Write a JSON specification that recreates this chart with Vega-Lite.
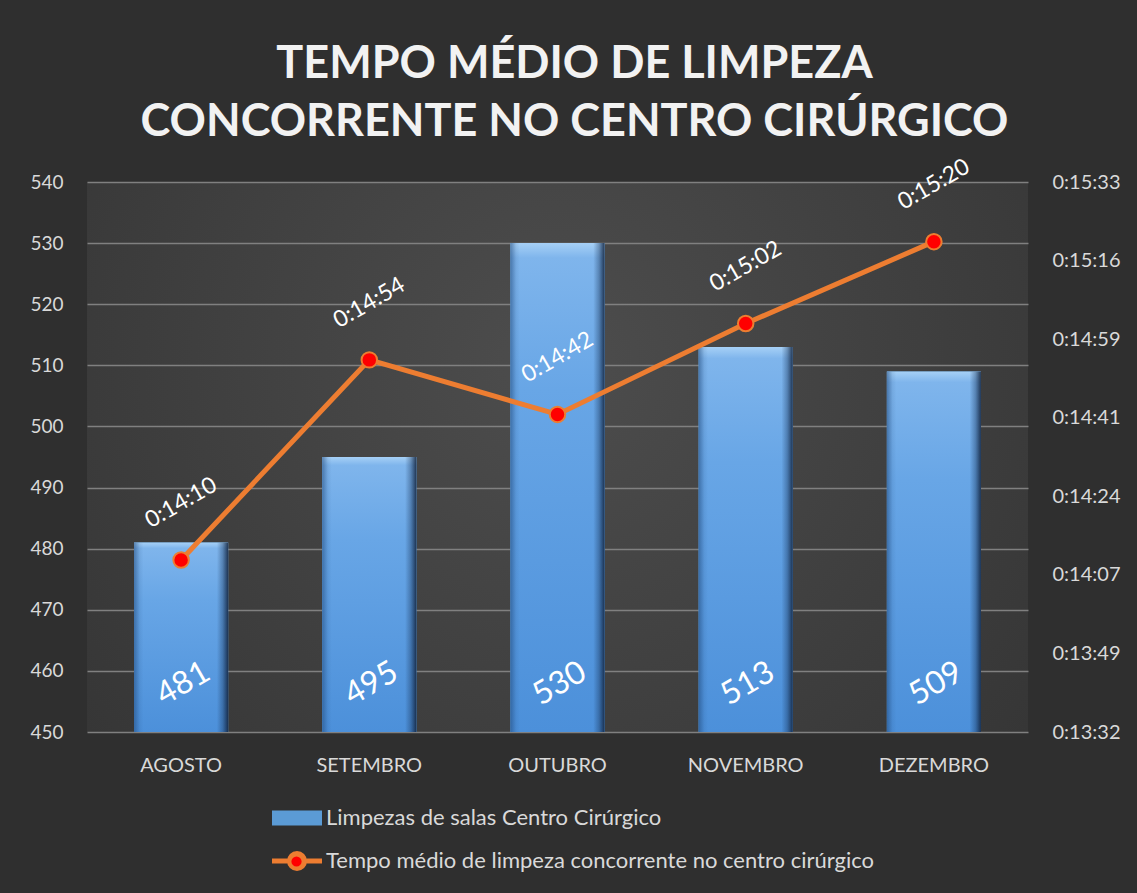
{
  "$schema": "https://vega.github.io/schema/vega-lite/v6.json",
  "width": 941,
  "height": 550,
  "autosize": {"type": "none"},
  "padding": {"left": 87, "top": 182, "right": 109, "bottom": 161},
  "background": "#2f2f2f",
  "config": {
    "font": "Lato",
    "view": {
      "stroke": null,
      "fill": {
        "gradient": "radial",
        "x1": 0.5, "y1": 0.4, "x2": 0.5, "y2": 0.4, "r1": 0, "r2": 0.8,
        "stops": [
          {"offset": 0, "color": "#4d4d4d"},
          {"offset": 1, "color": "#303030"}
        ]
      }
    },
    "axis": {
      "labelFont": "Lato",
      "labelColor": "#d9d9d9",
      "labelFontSize": 19,
      "ticks": false,
      "domain": false,
      "title": null
    }
  },
  "title": {
    "text": ["TEMPO MÉDIO DE LIMPEZA", "CONCORRENTE NO CENTRO CIRÚRGICO"],
    "font": "Lato",
    "fontSize": 45,
    "fontWeight": "bold",
    "color": "#f2f2f2",
    "lineHeight": 58,
    "anchor": "middle",
    "offset": 11,
    "dx": 17
  },
  "data": {
    "values": [
      {"mes": "AGOSTO", "limpezas": 481, "tempo": 850, "tempo_label": "0:14:10"},
      {"mes": "SETEMBRO", "limpezas": 495, "tempo": 894, "tempo_label": "0:14:54"},
      {"mes": "OUTUBRO", "limpezas": 530, "tempo": 882, "tempo_label": "0:14:42"},
      {"mes": "NOVEMBRO", "limpezas": 513, "tempo": 902, "tempo_label": "0:15:02"},
      {"mes": "DEZEMBRO", "limpezas": 509, "tempo": 920, "tempo_label": "0:15:20"}
    ]
  },
  "layer": [
    {
      "encoding": {
        "x": {
          "field": "mes", "type": "nominal", "sort": null,
          "scale": {"paddingInner": 0.5, "paddingOuter": 0.25},
          "axis": {"labelAngle": 0, "labelPadding": 23, "labelFontSize": 20, "grid": false}
        },
        "y": {
          "field": "limpezas", "type": "quantitative",
          "scale": {"domain": [450, 540], "zero": false, "nice": false},
          "axis": {
            "orient": "left",
            "values": [450, 460, 470, 480, 490, 500, 510, 520, 530, 540],
            "grid": true, "gridColor": "#808080", "gridWidth": 1.5,
            "labelPadding": 24
          }
        }
      },
      "layer": [
        {
          "mark": {"type": "bar"},
          "encoding": {
            "y2": {"datum": 450},
            "color": {
              "datum": "Limpezas de salas Centro Cirúrgico",
              "type": "nominal",
              "scale": {
                "domain": ["Limpezas de salas Centro Cirúrgico", "Tempo médio de limpeza concorrente no centro cirúrgico"],
                "range": ["#5b9bd5", "#ed7d31"]
              },
              "legend": {
                "orient": "none",
                "legendX": 199,
                "legendY": 625,
                "direction": "vertical",
                "title": null,
                "padding": 0,
                "labelFont": "Lato",
                "labelFontSize": 22,
                "labelColor": "#d9d9d9",
                "labelLimit": 0,
                "symbolSize": 2500,
                "rowPadding": 14,
                "labelOffset": 18,
                "encode": {
                  "symbols": {
                    "update": {
                      "shape": {"signal": "datum.value == 'Limpezas de salas Centro Cirúrgico' ? 'M-1,-0.3H1V0.3H-1Z' : 'M-1,0H-0.3M0.3,0H1M-0.3,0A0.3,0.3 0 1 1 0.3,0A0.3,0.3 0 1 1 -0.3,0Z'"},
                      "strokeWidth": {"signal": "datum.value == 'Limpezas de salas Centro Cirúrgico' ? 0 : 5"},
                      "opacity": {"value": 1}
                    }
                  }
                }
              }
            }
          }
        },
        {
          "mark": {
            "type": "bar",
            "fill": {
              "gradient": "linear", "x1": 0, "y1": 0, "x2": 0, "y2": 1,
              "stops": [
                {"offset": 0, "color": "#a6d0f6"},
                {"offset": 0.03, "color": "#7fb5ec"},
                {"offset": 0.3, "color": "#68a6e6"},
                {"offset": 1, "color": "#4c90da"}
              ]
            }
          },
          "encoding": {"y2": {"datum": 450}}
        },
        {
          "mark": {
            "type": "bar",
            "fill": {
              "gradient": "linear", "x1": 0, "y1": 0, "x2": 1, "y2": 0,
              "stops": [
                {"offset": 0, "color": "rgba(30,70,120,0.55)"},
                {"offset": 0.06, "color": "rgba(30,70,120,0.1)"},
                {"offset": 0.1, "color": "rgba(30,70,120,0)"},
                {"offset": 0.88, "color": "rgba(20,45,80,0)"},
                {"offset": 0.94, "color": "rgba(20,45,80,0.35)"},
                {"offset": 1, "color": "rgba(15,30,55,0.85)"}
              ]
            }
          },
          "encoding": {"y2": {"datum": 450}}
        },
        {
          "mark": {
            "type": "text", "angle": 330, "align": "center", "baseline": "middle",
            "dx": 26, "dy": -41, "fontSize": 32, "font": "Lato", "color": "#ffffff"
          },
          "encoding": {
            "y": {"datum": 450},
            "text": {"field": "limpezas", "type": "quantitative"}
          }
        }
      ]
    },
    {
      "encoding": {
        "x": {"field": "mes", "type": "nominal", "sort": null},
        "y": {
          "field": "tempo", "type": "quantitative",
          "scale": {"domain": [812.16, 933.12], "zero": false, "nice": false},
          "axis": {
            "orient": "right",
            "values": [812.16, 829.44, 846.72, 864, 881.28, 898.56, 915.84, 933.12],
            "grid": false,
            "labelPadding": 24,
            "labelFontSize": 20,
            "labelExpr": "'0:' + timeFormat(datetime(2000, 0, 1, 0, 0, round(datum.value)), '%M:%S')"
          }
        }
      },
      "layer": [
        {
          "mark": {"type": "line", "strokeWidth": 5},
          "encoding": {
            "color": {"datum": "Tempo médio de limpeza concorrente no centro cirúrgico", "type": "nominal"}
          }
        },
        {
          "mark": {
            "type": "point", "shape": "circle", "filled": true, "size": 240,
            "stroke": "#ed7d31", "strokeWidth": 2, "opacity": 1
          },
          "encoding": {
            "fill": {
              "datum": "Marcador",
              "type": "nominal",
              "scale": {"domain": ["Marcador"], "range": ["#ff0000"]},
              "legend": {
                "orient": "none",
                "legendX": 202,
                "legendY": 672,
                "title": null,
                "padding": 0,
                "labelExpr": "''",
                "symbolType": "circle",
                "symbolSize": 150,
                "symbolStrokeColor": "#ed7d31",
                "symbolStrokeWidth": 2,
                "symbolOpacity": 1
              }
            }
          }
        },
        {
          "mark": {
            "type": "text", "angle": 330, "align": "center", "baseline": "middle",
            "dx": 28.5, "dy": -49.4, "fontSize": 23, "font": "Lato", "color": "#ffffff"
          },
          "encoding": {"text": {"field": "tempo_label", "type": "nominal"}}
        }
      ]
    }
  ],
  "resolve": {"scale": {"y": "independent"}}
}
